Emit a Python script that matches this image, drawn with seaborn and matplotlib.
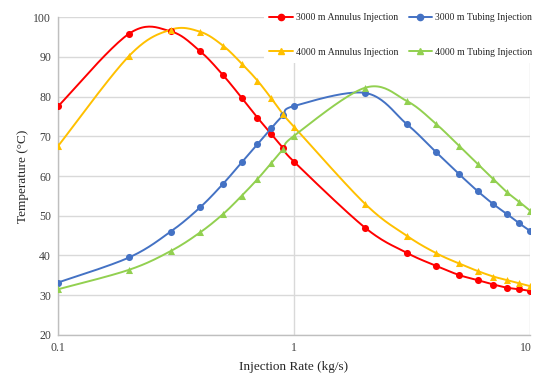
import numpy as np
import pandas as pd
import matplotlib
matplotlib.use("Agg")
import matplotlib.pyplot as plt
import matplotlib.transforms as mtransforms
from matplotlib.lines import Line2D
from matplotlib.ticker import FixedLocator, FuncFormatter, NullFormatter, LogLocator
import seaborn as sns

# ==========================================
# Data
# ==========================================
rate = [0.1, 0.2, 0.3, 0.4, 0.5, 0.6, 0.7, 0.8, 0.9, 1,
        2, 3, 4, 5, 6, 7, 8, 9, 10]

annulus_3000 = [77.5, 95.8, 96.4, 91.4, 85.4, 79.7, 74.7, 70.6, 67.0, 63.6,
                47.0, 40.7, 37.4, 35.1, 33.8, 32.7, 31.9, 31.5, 31.1]
tubing_3000 = [33.2, 39.5, 46.0, 52.1, 58.0, 63.4, 68.0, 72.0, 75.3, 77.6,
               80.9, 73.1, 66.0, 60.5, 56.2, 52.9, 50.4, 48.1, 46.2]
annulus_4000 = [67.5, 90.2, 96.8, 96.3, 92.8, 88.3, 84.0, 79.6, 75.5, 72.4,
                53.0, 45.0, 40.6, 38.0, 36.1, 34.7, 33.8, 33.0, 32.3]
tubing_4000 = [31.5, 36.4, 41.1, 45.8, 50.4, 55.0, 59.2, 63.2, 66.8, 70.1,
               82.2, 78.9, 73.1, 67.6, 63.0, 59.2, 55.9, 53.5, 51.3]

labels = ["3000 m Annulus Injection", "3000 m Tubing Injection",
          "4000 m Annulus Injection", "4000 m Tubing Injection"]
series = [annulus_3000, tubing_3000, annulus_4000, tubing_4000]
colors = ["#FF0000", "#4472C4", "#FFC000", "#92D050"]
markers = ["o", "o", "^", "^"]


# Excel-style smoothed line (Bezier through the points, in log-x space)
def smooth(x, y, n=25):
    pts = np.column_stack([np.log10(x), np.asarray(y, dtype=float)])
    ext = np.vstack([pts[0], pts, pts[-1]])
    t = np.linspace(0, 1, n)[:, None]
    out = []
    for i in range(len(pts) - 1):
        p0, p1, p2, p3 = ext[i:i + 4]
        c1 = p1 + (p2 - p0) / 6
        c2 = p2 - (p3 - p1) / 6
        seg = (1 - t) ** 3 * p1 + 3 * (1 - t) ** 2 * t * c1 + 3 * (1 - t) * t ** 2 * c2 + t ** 3 * p2
        out.append(seg if i == 0 else seg[1:])
    out = np.vstack(out)
    return 10 ** out[:, 0], out[:, 1]


# ==========================================
# Plot
# ==========================================
sns.set_theme(style="white")
plt.rcParams['font.family'] = ['Liberation Serif', 'DejaVu Serif']

fig = plt.figure(figsize=(5.34, 3.74), dpi=100)
ax = fig.add_axes([0.1086, 0.1043, 0.8839, 0.8502])

handles = []
for lab, vals, col, mk in zip(labels, series, colors, markers):
    sx, sy = smooth(rate, vals)
    line_df = pd.DataFrame({"rate": sx, "temp": sy})
    pts_df = pd.DataFrame({"rate": rate, "temp": vals})
    sns.lineplot(data=line_df, x="rate", y="temp", ax=ax, color=col,
                 linewidth=1.4, sort=False, estimator=None, zorder=3)
    sns.scatterplot(data=pts_df, x="rate", y="temp", ax=ax, color=col,
                    marker=mk, s=26, edgecolor=col, linewidth=0, zorder=4)
    handles.append(Line2D([], [], color=col, lw=1.4, marker=mk, markersize=4.5))

ax.set_xscale('log')
ax.set_xlim(0.1, 10)
ax.set_ylim(20, 100)
ax.set_yticks(range(20, 101, 10))
ax.xaxis.set_major_locator(FixedLocator([0.1, 1, 10]))
ax.xaxis.set_major_formatter(FuncFormatter(lambda v, p: f"{v:g}"))
ax.xaxis.set_minor_locator(LogLocator(base=10, subs=np.arange(2, 10)))
ax.xaxis.set_minor_formatter(NullFormatter())

ax.grid(True, which='major', color='#D9D9D9', linewidth=1.0)
ax.set_axisbelow(True)
for s in ['top', 'right']:
    ax.spines[s].set_visible(False)
for s in ['left', 'bottom']:
    ax.spines[s].set_color('#BFBFBF')
    ax.spines[s].set_linewidth(1.0)

ax.tick_params(axis='both', which='major', length=0, labelsize=8.5,
               labelcolor='#404040', pad=5)
ax.tick_params(axis='x', which='minor', direction='in', length=4,
               color='#BFBFBF', width=1.0)

# keep the "10" label inside the figure edge
fig.canvas.draw()
last = ax.get_xticklabels()[-1]
last.set_transform(last.get_transform() +
                   mtransforms.ScaledTranslation(-4 / 100, 0, fig.dpi_scale_trans))

ax.set_xlabel("Injection Rate (kg/s)", fontsize=9.5, color='#262626', labelpad=5)
ax.set_ylabel("Temperature (°C)", fontsize=9.5, color='#262626', labelpad=3)

order = [0, 2, 1, 3]
leg = fig.legend([handles[i] for i in order], [labels[i] for i in order],
                 ncol=2, loc='upper right', bbox_to_anchor=(1.0075, 0.981),
                 fontsize=7, frameon=True, facecolor='white', edgecolor='none',
                 framealpha=1, fancybox=False, handlelength=2.4,
                 handletextpad=0.3, columnspacing=1.1, labelspacing=2.65,
                 borderpad=0.6, borderaxespad=0.0)
for t in leg.get_texts():
    t.set_color('#262626')

plt.savefig("out.png", dpi=100)
plt.close()
